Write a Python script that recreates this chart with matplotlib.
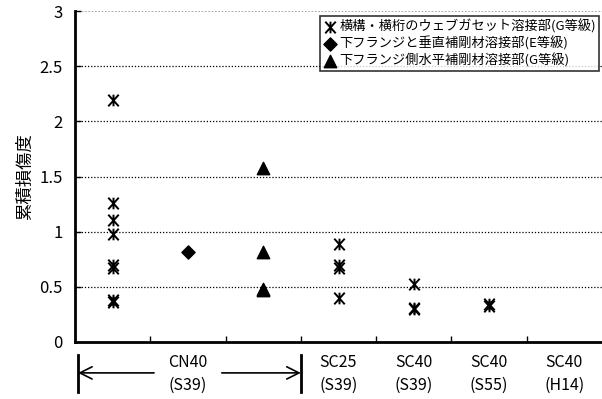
import matplotlib
matplotlib.use("Agg")
import matplotlib.pyplot as plt
from matplotlib.path import Path

plt.rcParams['font.family'] = ['Noto Sans CJK JP', 'DejaVu Sans']

# category labels along the bottom (CN40 spans the first three slots)
cat_labels = ["SC25\n(S39)", "SC40\n(S39)", "SC40\n(S55)", "SC40\n(H14)"]
cat_label_pos = [3, 4, 5, 6]
n_cats = 7

# web gusset welds (G grade)
gusset_x = [0, 0, 0, 0, 0, 0, 0, 0, 3, 3, 3, 3, 4, 4, 4, 5, 5]
gusset_y = [2.19, 1.26, 1.11, 0.98, 0.70, 0.67, 0.38, 0.36,
            0.89, 0.70, 0.67, 0.40, 0.53, 0.31, 0.30, 0.34, 0.33]
# lower flange / vertical stiffener welds (E grade)
vstiff_x = [1]
vstiff_y = [0.82]
# lower flange side horizontal stiffener welds (G grade)
hstiff_x = [2, 2, 2, 2]
hstiff_y = [1.58, 0.82, 0.48, 0.47]

legend_labels = ["横構・横桁のウェブガセット溶接部(G等級)",
                 "下フランジと垂直補剛材溶接部(E等級)",
                 "下フランジ側水平補剛材溶接部(G等級)"]

# excel style star: an X with a short vertical stroke
star = Path([(-0.9, -1), (0.9, 1), (-0.9, 1), (0.9, -1), (0, -1), (0, 1)],
            [Path.MOVETO, Path.LINETO, Path.MOVETO, Path.LINETO,
             Path.MOVETO, Path.LINETO])

fig = plt.figure(figsize=(6.02, 3.99), dpi=100)
ax = fig.add_axes([75/602, 57/399, 527/602, 331/399])

ax.scatter(gusset_x, gusset_y, marker=star, s=70, color='black',
           linewidths=1.4, label=legend_labels[0], zorder=3)
ax.scatter(vstiff_x, vstiff_y, marker='D', s=45, color='black',
           label=legend_labels[1], zorder=3)
ax.scatter(hstiff_x, hstiff_y, marker='^', s=80, color='black',
           label=legend_labels[2], zorder=3)

ax.set_xlim(-0.5, n_cats - 0.5)
ax.set_ylim(0, 3)
ax.set_yticks([0, 0.5, 1, 1.5, 2, 2.5, 3])
ax.set_yticklabels(["0", "0.5", "1", "1.5", "2", "2.5", "3"], fontsize=12)
ax.set_xticks([i + 0.5 for i in range(n_cats - 1)])
ax.set_xticklabels([])
ax.tick_params(direction='in', length=4, width=1, pad=9)
for y in [0.5, 1, 1.5, 2, 2.5]:
    ax.axhline(y, color='black', linestyle=(0, (1, 1.5)), linewidth=0.9, zorder=1)
ax.axhline(3, color='#999999', linestyle=(0, (1, 1)), linewidth=1.2, zorder=1)

for s in ['top', 'right']:
    ax.spines[s].set_visible(False)
ax.spines['left'].set_linewidth(2)
ax.spines['bottom'].set_linewidth(2)

ax.set_ylabel("累積損傷度", fontsize=12.5, labelpad=4)

# bottom category labels
for p, t in zip(cat_label_pos, cat_labels):
    ax.text(p, -0.11, t, ha='center', va='top', fontsize=11.5, linespacing=1.4,
            clip_on=False)
ax.text(1, -0.11, "CN40\n(S39)", ha='center', va='top', fontsize=11.5,
        linespacing=1.4, clip_on=False)

# span arrows for CN40
yb = -0.28
ax.annotate("", xy=(-0.46, yb), xytext=(0.55, yb), annotation_clip=False,
            arrowprops=dict(arrowstyle='->', color='black', lw=1.2,
                            mutation_scale=22, shrinkA=0, shrinkB=0))
ax.annotate("", xy=(2.5, yb), xytext=(1.45, yb), annotation_clip=False,
            arrowprops=dict(arrowstyle='->', color='black', lw=1.2,
                            mutation_scale=22, shrinkA=0, shrinkB=0))
for xv in [-0.46, 2.5]:
    ax.plot([xv, xv], [-0.12, -0.45], color='black', lw=2, clip_on=False)

leg = ax.legend(loc='upper right', bbox_to_anchor=(0.995, 0.985), fontsize=9.5,
                frameon=True, fancybox=False, edgecolor='black',
                handletextpad=0.2, borderpad=0.25, labelspacing=0.2,
                handlelength=1.0, borderaxespad=0)
leg.get_frame().set_linewidth(1.2)

fig.savefig("out.png", dpi=100)
